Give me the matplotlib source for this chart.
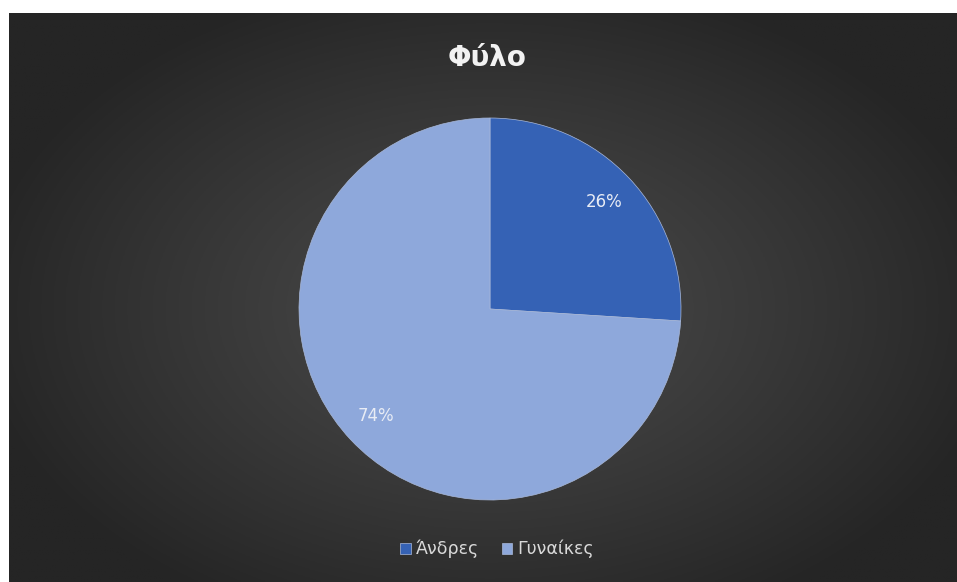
import numpy as np
import matplotlib
matplotlib.use("Agg")
import matplotlib.pyplot as plt

categories = ["Άνδρες", "Γυναίκες"]
values = [26, 74]
title = "Φύλο"
colors = ["#3562B5", "#8EA8DB"]

W, H = 957, 582
fig = plt.figure(figsize=(W / 100, H / 100), dpi=100, facecolor="white")

# background with radial gradient
bx0, by_top = 9, 13
bg = fig.add_axes([bx0 / W, 0, (W - bx0) / W, (H - by_top) / H])
bg.set_axis_off()
nx, ny = 400, 240
xx, yy = np.meshgrid(np.linspace(-1, 1, nx), np.linspace(-1, 1, ny))
cx, cy = (490 - bx0) / (W - bx0) * 2 - 1, (309 - by_top) / (H - by_top) * 2 - 1
r = np.sqrt(((xx - cx) / 1.1) ** 2 + ((yy - cy) / 1.2) ** 2)
r = np.clip(r, 0, 1)
c_in, c_out = 0x4a, 0x25
g = (c_in + (c_out - c_in) * r ** 1.2) / 255.0
img = np.dstack([g, g, g])
bg.imshow(img, extent=[0, 1, 0, 1], aspect="auto", origin="upper")
bg.set_xlim(0, 1)
bg.set_ylim(0, 1)

# pie
pcx, pcy, pr = 490, 309, 191
ax = fig.add_axes([(pcx - pr) / W, (H - pcy - pr) / H, 2 * pr / W, 2 * pr / H])
ax.set_facecolor("none")
wedges, texts, autotexts = ax.pie(
    values, colors=colors, startangle=90, counterclock=False,
    autopct="%1.0f%%", pctdistance=0.82, radius=1,
    wedgeprops=dict(linewidth=0.5, edgecolor="#a9b9da"),
    textprops=dict(color="#e8ecf5", fontsize=12))
ax.set_xlim(-1, 1)
ax.set_ylim(-1, 1)
ax.set_aspect("equal")
ax.set_axis_off()

fig.text(487 / W, 1 - 58 / H, title, ha="center", va="center",
         fontsize=20, fontweight="bold", color="#f2f2f2")

leg = fig.legend(wedges, categories, loc="center", bbox_to_anchor=(497 / W, 1 - 549 / H),
                 ncol=2, frameon=False, fontsize=12.5, handlelength=0.6, handleheight=0.6,
                 handletextpad=0.3, columnspacing=1.3)
for t in leg.get_texts():
    t.set_color("#d9d9d9")

fig.savefig("out.png", dpi=100, facecolor="white")
